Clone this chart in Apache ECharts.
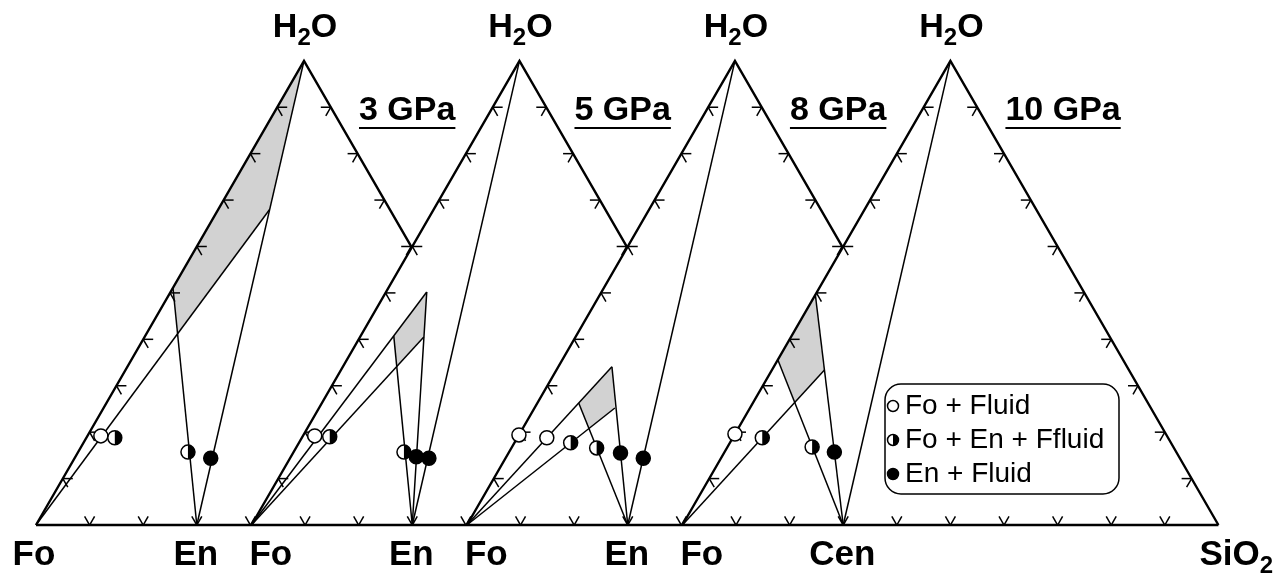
<!DOCTYPE html>
<html><head><meta charset="utf-8">
<script src="https://cdn.jsdelivr.net/npm/echarts@6/dist/echarts.min.js"></script>
<style>html,body{margin:0;padding:0;background:#fff}#c{width:1276px;height:574px}</style>
</head><body><div id="c"></div>
<script>
// ---------------- DATA (wt fractions, [SiO2, H2O]; Fo = remainder) ----------------
const pressures = ['3 GPa', '5 GPa', '8 GPa', '10 GPa'];
const leftPhase = ['Fo', 'Fo', 'Fo', 'Fo'];
const midPhase = ['En', 'En', 'En', 'Cen'];
const enSiO2 = 0.30;                       // SiO2 wt fraction of MgSiO3
const tickValues = [0.1, 0.2, 0.3, 0.4, 0.5, 0.6, 0.7, 0.8, 0.9];
const legendLabels = ['Fo + Fluid', 'Fo + En + Ffluid', 'En + Fluid'];

// 3 GPa
const gpa3FluidA = [0.096, 0.679];
const gpa3FluidE = [0.0, 0.511];
const gpa3Open = [[0.025, 0.192]];
const gpa3Half = [[0.053, 0.188], [0.205, 0.157]];
const gpa3Full = [[0.254, 0.144]];
// 5 GPa
const gpa5FluidA = [0.076, 0.502];
const gpa5FluidB = [0.119, 0.405];
const gpa5FluidC = [0.062, 0.407];
const gpa5Open = [[0.022, 0.192]];
const gpa5Half = [[0.051, 0.190], [0.206, 0.157]];
const gpa5Full = [[0.234, 0.147], [0.259, 0.144]];
// 8 GPa
const gpa8FluidA = [0.100, 0.341];
const gpa8FluidB = [0.150, 0.252];
const gpa8FluidC = [0.077, 0.263];
const gpa8Open = [[0.0, 0.194], [0.055, 0.188]];
const gpa8Half = [[0.105, 0.177], [0.159, 0.166]];
const gpa8Full = [[0.209, 0.155], [0.257, 0.144]];
// 10 GPa
const gpa10FluidE = [0.0, 0.496];
const gpa10FluidF = [0.0, 0.356];
const gpa10FluidG = [0.098, 0.334];
const gpa10Open = [[0.0, 0.196]];
const gpa10Half = [[0.055, 0.188], [0.158, 0.168]];
const gpa10Full = [[0.205, 0.157]];

// ---------------- LAYOUT ----------------
const LAYOUT = { x0: 36, baseY: 525, side: 536, offsets: [0, 0.402, 0.804, 1.206] };
const FONT = '"Liberation Sans", Arial, Helvetica, sans-serif';
const SQ = Math.sqrt(3) / 2;
const FO = [0, 0], H2O = [0, 1], EN = [enSiO2, 0];

function cart(p, o) { return [o + p[0] + p[1] / 2, p[1] * SQ]; }
function inter(a, b, c, d) {
  const x1=a[0],y1=a[1],x2=b[0],y2=b[1],x3=c[0],y3=c[1],x4=d[0],y4=d[1];
  const den=(x1-x2)*(y3-y4)-(y1-y2)*(x3-x4);
  const t=((x1-x3)*(y3-y4)-(y1-y3)*(x3-x4))/den;
  return [x1+t*(x2-x1), y1+t*(y2-y1)];
}

const panels = [
  { lines: [[EN, H2O], [FO, gpa3FluidA], [gpa3FluidE, EN]],
    fill: [H2O, gpa3FluidA, inter(FO, gpa3FluidA, gpa3FluidE, EN), gpa3FluidE],
    open: gpa3Open, half: gpa3Half, full: gpa3Full },
  { lines: [[EN, H2O], [FO, gpa5FluidA], [FO, gpa5FluidB], [gpa5FluidC, EN], [gpa5FluidA, EN]],
    fill: [gpa5FluidC, gpa5FluidA, gpa5FluidB, inter(FO, gpa5FluidB, gpa5FluidC, EN)],
    open: gpa5Open, half: gpa5Half, full: gpa5Full },
  { lines: [[EN, H2O], [FO, gpa8FluidA], [FO, gpa8FluidB], [gpa8FluidC, EN], [gpa8FluidA, EN]],
    fill: [gpa8FluidC, gpa8FluidA, gpa8FluidB, inter(FO, gpa8FluidB, gpa8FluidC, EN)],
    open: gpa8Open, half: gpa8Half, full: gpa8Full },
  { lines: [[EN, H2O], [gpa10FluidE, EN], [gpa10FluidF, EN], [FO, gpa10FluidG]],
    fill: [gpa10FluidE, gpa10FluidG, inter(FO, gpa10FluidG, gpa10FluidF, EN), gpa10FluidF],
    open: gpa10Open, half: gpa10Half, full: gpa10Full }
];

// ---------------- BUILD GEOMETRY ----------------
const S = LAYOUT.side;
const offs = LAYOUT.offsets;
const TL = 10 / S;
const paths = [];   // {pts, w}
const fills = [];
const syms = [];
function addTick(p, d) { paths.push({ pts: [p, [p[0] + d[0]*TL, p[1] + d[1]*TL]], w: 1.5 }); }

offs.forEach((o, k) => {
  const last = k === offs.length - 1;
  const hCut = last ? 0 : 1 - (offs[k+1] - o);
  const sMax = last ? 1 : offs[k+1] - o;
  const pn = panels[k];
  fills.push(pn.fill.map(p => cart(p, o)));
  pn.lines.forEach(l => paths.push({ pts: [cart(l[0], o), cart(l[1], o)], w: 1.5 }));
  paths.push({ pts: [cart(FO, o), cart(H2O, o), cart([1 - hCut, hCut], o)], w: 2.4 });
  tickValues.forEach(t => {
    const L = cart([0, t], o); addTick(L, [1, 0]); addTick(L, [0.5, -SQ]);
    if (t >= hCut - 1e-3) { const R = cart([1 - t, t], o); addTick(R, [-1, 0]); addTick(R, [-0.5, -SQ]); }
    if (t <= sMax + 1e-3) { const B = cart([t, 0], o); addTick(B, [-0.5, SQ]); addTick(B, [0.5, SQ]); }
  });
  pn.open.forEach(p => syms.push({ xy: cart(p, o), t: 'open' }));
  pn.half.forEach(p => syms.push({ xy: cart(p, o), t: 'half' }));
  pn.full.forEach(p => syms.push({ xy: cart(p, o), t: 'full' }));
});
paths.push({ pts: [cart(FO, offs[0]), cart([1, 0], offs[offs.length - 1])], w: 2.4 });

function symbolEl(cx, cy, r, t) {
  if (t === 'open') return { type: 'circle', shape: { cx, cy, r }, style: { fill: '#fff', stroke: '#000', lineWidth: 1.5 } };
  if (t === 'full') return { type: 'circle', shape: { cx, cy, r }, style: { fill: '#000', stroke: '#000', lineWidth: 1.5 } };
  return { type: 'group', children: [
    { type: 'circle', shape: { cx, cy, r }, style: { fill: '#fff' } },
    { type: 'sector', shape: { cx, cy, r0: 0, r, startAngle: -Math.PI/2, endAngle: Math.PI/2, clockwise: true }, style: { fill: '#000' } },
    { type: 'circle', shape: { cx, cy, r }, style: { fill: null, stroke: '#000', lineWidth: 1.5 } }
  ]};
}

const chart = echarts.init(document.getElementById('c'), null, { renderer: 'canvas' });
const dummy = n => Array.from({ length: n }, () => [0, 0]);
chart.setOption({
  animation: false,
  backgroundColor: '#fff',
  grid: { left: 0, right: 0, top: 0, bottom: 0 },
  xAxis: { type: 'value', min: -LAYOUT.x0 / S, max: (1276 - LAYOUT.x0) / S, show: false },
  yAxis: { type: 'value', min: -(574 - LAYOUT.baseY) / S, max: LAYOUT.baseY / S, show: false },
  series: [
    { type: 'custom', data: dummy(fills.length), clip: false, silent: true, z: 1,
      renderItem: (params, api) => ({ type: 'polygon', shape: { points: fills[params.dataIndex].map(q => api.coord(q)) },
        style: { fill: '#d2d2d2', stroke: null } }) },
    { type: 'custom', data: dummy(paths.length), clip: false, silent: true, z: 2,
      renderItem: (params, api) => { const p = paths[params.dataIndex];
        return { type: 'polyline', shape: { points: p.pts.map(q => api.coord(q)) },
          style: { stroke: '#000', lineWidth: p.w, fill: null, lineJoin: 'miter', lineCap: 'butt' } }; } },
    { type: 'custom', data: dummy(syms.length), clip: false, silent: true, z: 3,
      renderItem: (params, api) => { const s = syms[params.dataIndex]; const c = api.coord(s.xy);
        return symbolEl(c[0], c[1], 7, s.t); } }
  ]
});

// ---------------- TEXT ----------------
const mctx = document.createElement('canvas').getContext('2d');
function tw(str, size, bold) { mctx.font = (bold ? 'bold ' : '') + size + 'px ' + FONT; return mctx.measureText(str).width; }
function txt(x, y, str, size, bold, align) {
  return { type: 'text', x, y, style: { text: str, fontSize: size, fontWeight: bold ? 'bold' : 'normal',
    fontFamily: FONT, fill: '#000', align: align || 'left', verticalAlign: 'middle' } };
}
function subLabel(xLeft, y, a, sub, b, size, subSize, dy) {
  const w1 = tw(a, size, true), w2 = tw(sub, subSize, true);
  const out = [txt(xLeft, y, a, size, true), txt(xLeft + w1, y + dy, sub, subSize, true)];
  if (b) out.push(txt(xLeft + w1 + w2, y, b, size, true));
  return out;
}
const px = p => chart.convertToPixel({ gridIndex: 0 }, p);
const g = [];
offs.forEach((o, k) => {
  const ap = px(cart(H2O, o));
  const hw = tw('H', 34, true) + tw('2', 24, true) + tw('O', 34, true);
  g.push(...subLabel(ap[0] + 1 - hw / 2, ap[1] - 33, 'H', '2', 'O', 34, 24, 11));
  const pl = ap[0] + 55, pw = tw(pressures[k], 34, true);
  g.push(txt(pl, 111, pressures[k], 34, true));
  g.push({ type: 'line', shape: { x1: pl, y1: 128, x2: pl + pw, y2: 128 }, style: { stroke: '#000', lineWidth: 2 } });
  const fo = px(cart(FO, o)), en = px(cart(EN, o));
  if (k === 0) g.push(txt(fo[0] - 2, 555, leftPhase[k], 35, true, 'center'));
  else g.push(txt(fo[0] - 2, 555, leftPhase[k], 35, true, 'left'));
  g.push(txt(en[0] - 1, 555, midPhase[k], 35, true, 'center'));
});
const si = px(cart([1, 0], offs[offs.length - 1]));
g.push(...subLabel(si[0] - 19, 555, 'SiO', '2', null, 35, 24, 11));

// legend
g.push({ type: 'rect', shape: { x: 885, y: 384, width: 234, height: 110, r: 16 }, style: { fill: '#fff', stroke: '#000', lineWidth: 1.5 } });
const legTypes = ['open', 'half', 'full'];
const legY = [406, 440, 474];
legendLabels.forEach((l, i) => {
  g.push(symbolEl(893, legY[i], 5.5, legTypes[i]));
  g.push(txt(905, legY[i], l, 28, false));
});
chart.setOption({ graphic: g });
</script></body></html>
